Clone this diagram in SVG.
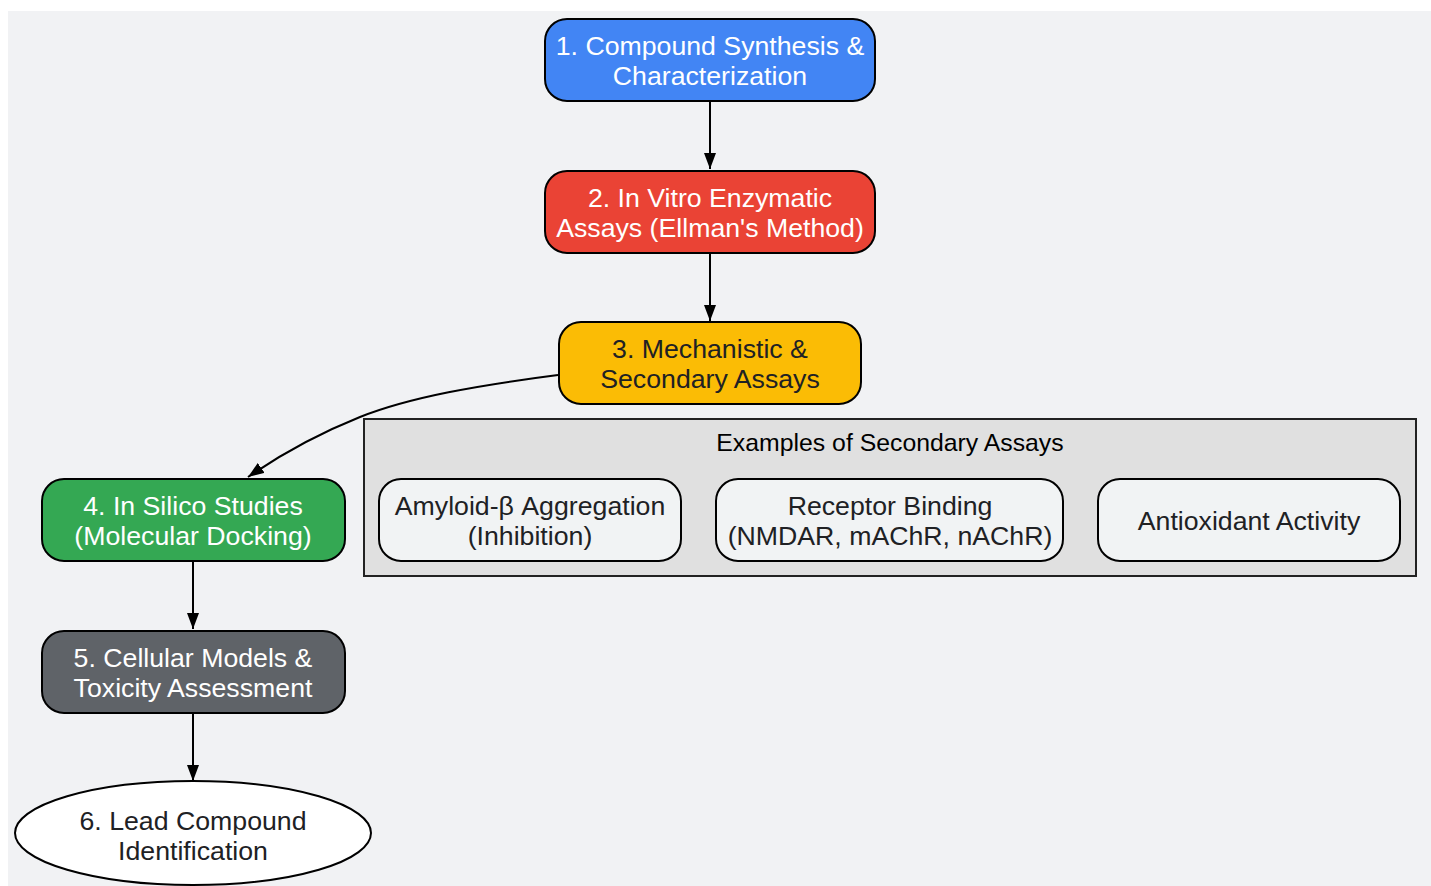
<svg xmlns="http://www.w3.org/2000/svg" width="1431" height="886" viewBox="0 0 1431 886">
<defs>
<style>
.n{stroke:#000;stroke-width:2}
.t{font-family:"Liberation Sans",Arial,sans-serif;font-size:26.7px;text-anchor:middle}
.w{fill:#fff}
.d{fill:#202124}
.e{fill:none;stroke:#000;stroke-width:2}
.sub{fill:#f1f3f4;stroke:#000;stroke-width:2}
</style>
<marker id="a" viewBox="0 0 16 12" refX="16" refY="6" markerWidth="16" markerHeight="12" markerUnits="userSpaceOnUse" orient="auto">
<path d="M0,0 L16,6 L0,12 z" fill="#000"/>
</marker>
</defs>
<rect width="1431" height="886" fill="#fff"/>
<rect x="8" y="11" width="1423" height="875" fill="#f1f2f4"/>
<g id="cluster">
<rect x="364" y="419" width="1052" height="157" fill="#e0e0e0" stroke="#222" stroke-width="2"/>
<text class="t" x="890" y="451" fill="#000" style="font-size:24.8px">Examples of Secondary Assays</text>
</g>
<g id="connectors">
<path class="e" d="M710,101 L710,169" marker-end="url(#a)"/>
<path class="e" d="M710,253 L710,321" marker-end="url(#a)"/>
<path class="e" d="M558,375 C480,385 410,397 360,417 C320,433 280,455 248,477" marker-end="url(#a)"/>
<path class="e" d="M193,561 L193,629" marker-end="url(#a)"/>
<path class="e" d="M193,713 L193,781" marker-end="url(#a)"/>
</g>
<g id="n1">
<rect class="n" x="545" y="19" width="330" height="82" rx="22" fill="#4285f4"/>
<text class="t w" x="710" y="55">1. Compound Synthesis &amp;</text>
<text class="t w" x="710" y="85">Characterization</text>
</g>
<g id="n2">
<rect class="n" x="545" y="171" width="330" height="82" rx="22" fill="#ea4335"/>
<text class="t w" x="710" y="207">2. In Vitro Enzymatic</text>
<text class="t w" x="710" y="237">Assays (Ellman's Method)</text>
</g>
<g id="n3">
<rect class="n" x="559" y="322" width="302" height="82" rx="22" fill="#fbbc05"/>
<text class="t d" x="710" y="358">3. Mechanistic &amp;</text>
<text class="t d" x="710" y="388">Secondary Assays</text>
</g>
<g id="n4">
<rect class="n" x="42" y="479" width="303" height="82" rx="22" fill="#34a853"/>
<text class="t w" x="193" y="515">4. In Silico Studies</text>
<text class="t w" x="193" y="545">(Molecular Docking)</text>
</g>
<g id="n5">
<rect class="n" x="42" y="631" width="303" height="82" rx="22" fill="#5f6368"/>
<text class="t w" x="193" y="667">5. Cellular Models &amp;</text>
<text class="t w" x="193" y="697">Toxicity Assessment</text>
</g>
<g id="n6">
<ellipse class="n" cx="193" cy="833" rx="178" ry="52" fill="#fff"/>
<text class="t d" x="193" y="830">6. Lead Compound</text>
<text class="t d" x="193" y="860">Identification</text>
</g>
<g id="s1">
<rect class="sub" x="379" y="479" width="302" height="82" rx="22"/>
<text class="t d" x="530" y="515">Amyloid-β Aggregation</text>
<text class="t d" x="530" y="545">(Inhibition)</text>
</g>
<g id="s2">
<rect class="sub" x="716" y="479" width="347" height="82" rx="22"/>
<text class="t d" x="890" y="515">Receptor Binding</text>
<text class="t d" x="890" y="545">(NMDAR, mAChR, nAChR)</text>
</g>
<g id="s3">
<rect class="sub" x="1098" y="479" width="302" height="82" rx="22"/>
<text class="t d" x="1249" y="530">Antioxidant Activity</text>
</g>
</svg>
